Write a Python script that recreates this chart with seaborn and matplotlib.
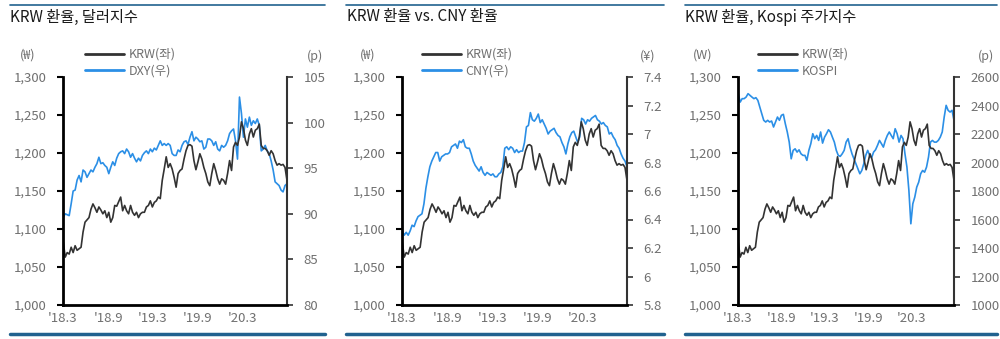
import numpy as np
import pandas as pd
import matplotlib
matplotlib.use("Agg")
import matplotlib.pyplot as plt
import matplotlib.dates as mdates
from matplotlib.lines import Line2D
from matplotlib.ticker import FuncFormatter, FixedLocator
import seaborn as sns

sns.set_theme(style="white")
plt.rcParams["font.family"] = ["Noto Sans CJK KR", "DejaVu Sans"]

# ---- data (weekly, 2018.3 ~ 2020.8) ----
krw = [1083, 1063, 1069, 1067, 1076, 1069, 1078, 1072, 1074, 1076, 1096,
       1109, 1112, 1115, 1126, 1133, 1128, 1122, 1129, 1125, 1120, 1124, 1115,
       1122, 1109, 1115, 1131, 1130, 1136, 1142, 1124, 1131, 1124, 1120,
       1131, 1122, 1118, 1122, 1115, 1120, 1122, 1122, 1129, 1131,
       1137, 1129, 1135, 1137, 1142, 1140, 1164, 1179, 1195, 1181,
       1186, 1179, 1168, 1155, 1173, 1177, 1179, 1192, 1203, 1210,
       1211, 1209, 1190, 1178, 1188, 1199, 1192, 1181, 1173, 1162,
       1157, 1173, 1186, 1177, 1166, 1159, 1166, 1164, 1159, 1173,
       1190, 1177, 1208, 1214, 1210, 1221, 1241, 1232, 1217, 1210,
       1225, 1232, 1221, 1230, 1232, 1238, 1210, 1206, 1206, 1203,
       1197, 1203, 1199, 1190, 1184, 1186, 1184, 1185, 1181, 1164]

dxy = [89.6, 90.0, 89.9, 89.8, 91.1, 92.5, 92.6, 93.7, 94.2, 93.5, 94.8, 94.6,
       94.0, 94.4, 94.8, 94.6, 95.1, 95.5, 96.2, 95.5, 95.6, 95.3, 95.1, 94.4,
       95.1, 95.7, 95.3, 96.1, 96.6, 96.8, 96.9, 96.6, 97.1, 96.8, 96.2, 96.6,
       96.1, 95.7, 96.1, 95.8, 96.4, 96.7, 96.9, 96.6, 97.1, 96.8, 97.2, 97.0,
       97.5, 98.0, 97.5, 97.7, 97.5, 97.7, 97.5, 96.6, 96.4, 96.4, 97.0, 96.8,
       97.5, 97.9, 98.0, 97.6, 98.4, 99.0, 98.0, 98.4, 98.2, 97.9, 98.0, 97.1,
       97.3, 98.2, 98.2, 98.0, 97.5, 97.9, 97.1, 96.9, 97.5, 97.3, 97.5, 98.0,
       98.8, 99.1, 99.3, 98.0, 96.0, 102.8, 101.0, 98.4, 100.4, 99.5, 100.6,
       99.7, 100.2, 99.9, 100.4, 99.7, 96.9, 97.1, 97.5, 96.9, 96.6, 95.8,
       94.8, 93.5, 93.3, 93.1, 92.6, 92.4, 93.1, 93.3]

cny = [6.32, 6.29, 6.31, 6.29, 6.32, 6.36, 6.35, 6.39, 6.42, 6.43, 6.44, 6.51,
       6.62, 6.70, 6.77, 6.81, 6.84, 6.87, 6.87, 6.81, 6.84, 6.85, 6.86, 6.86,
       6.87, 6.91, 6.92, 6.93, 6.90, 6.95, 6.94, 6.96, 6.91, 6.90, 6.90, 6.86,
       6.81, 6.78, 6.76, 6.74, 6.77, 6.73, 6.71, 6.73, 6.72, 6.71, 6.72, 6.70,
       6.70, 6.72, 6.73, 6.77, 6.90, 6.91, 6.89, 6.91, 6.90, 6.87, 6.89, 6.87,
       6.88, 6.88, 6.94, 7.05, 7.06, 7.15, 7.10, 7.09, 7.11, 7.14, 7.08, 7.10,
       7.07, 7.04, 7.00, 7.02, 7.03, 7.04, 7.01, 6.99, 6.98, 6.94, 6.91, 6.86,
       6.93, 6.98, 7.01, 7.02, 6.98, 6.94, 6.98, 7.11, 7.10, 7.07, 7.10, 7.09,
       7.11, 7.12, 7.13, 7.10, 7.09, 7.07, 7.08, 7.06, 7.05, 7.00, 7.01, 6.98,
       6.96, 6.92, 6.90, 6.86, 6.83, 6.81, 6.77]

kospi = [2483, 2424, 2448, 2448, 2459, 2483, 2471, 2459, 2448, 2455, 2436, 2389,
         2342, 2296, 2284, 2296, 2284, 2291, 2249, 2284, 2319, 2296, 2331, 2338,
         2272, 2214, 2143, 2026, 2085, 2096, 2073, 2089, 2061, 2050, 2050, 2015,
         2085, 2132, 2202, 2167, 2190, 2155, 2214, 2136, 2178, 2202, 2230, 2214,
         2178, 2143, 2085, 2050, 2043, 2061, 2085, 2143, 2167, 2108, 2061, 2026,
         1991, 1956, 1921, 1944, 1991, 2050, 2085, 2050, 2033, 2073, 2089, 2120,
         2155, 2132, 2108, 2155, 2190, 2214, 2190, 2167, 2237, 2202, 2143, 2190,
         2167, 2061, 1968, 1804, 1570, 1710, 1757, 1827, 1862, 1921, 1944, 1932,
         1968, 2038, 2143, 2155, 2143, 2143, 2155, 2178, 2214, 2319, 2401, 2366,
         2354, 2366, 2296]

x_tick_dates = ["2018-03-01", "2018-09-01", "2019-03-01", "2019-09-01", "2020-03-01"]
x_tick_labels = ["'18.3", "'18.9", "'19.3", "'19.9", "'20.3"]

krw_ticks = [1000, 1050, 1100, 1150, 1200, 1250, 1300]
dxy_ticks = [80, 85, 90, 95, 100, 105]
cny_ticks = [5.8, 6.0, 6.2, 6.4, 6.6, 6.8, 7.0, 7.2, 7.4]
kospi_ticks = [1000, 1200, 1400, 1600, 1800, 2000, 2200, 2400, 2600]

titles = ["KRW 환율, 달러지수", "KRW 환율 vs. CNY 환율", "KRW 환율, Kospi 주가지수"]
left_units = ["(₩)", "(₩)", "(W)"]
right_units = ["(p)", "(¥)", "(p)"]
krw_label = "KRW(좌)"
right_labels = ["DXY(우)", "CNY(우)", "KOSPI"]

START, END = "2018-03-02", "2020-08-28"
XMIN, XMAX = pd.Timestamp("2018-03-01"), pd.Timestamp("2020-08-28")

BLACK = "#333333"
BLUE = "#2b8fe6"
FRAME = "#21628f"
GREY = "#707070"

W, H = 1000, 339
fig = plt.figure(figsize=(W / 100, H / 100), dpi=100)


def fx(px):
    return px / W


def fy(py):
    return 1 - py / H


def dates_for(values):
    return pd.date_range(START, END, periods=len(values))


def fmt_general(v, _):
    return f"{round(v, 1):g}"


panels = [
    dict(ax_l=63, ax_r=287, rule=(10, 325), title_x=10, lu_x=28, ru_x=315, leg_x=85,
         series=dxy, ticks=dxy_ticks, fmt=lambda v, _: f"{v:.0f}"),
    dict(ax_l=402, ax_r=627, rule=(346, 664), title_x=347, lu_x=368, ru_x=648, leg_x=422,
         series=cny, ticks=cny_ticks, fmt=fmt_general),
    dict(ax_l=738, ax_r=954, rule=(685, 997), title_x=685, lu_x=703, ru_x=986, leg_x=758,
         series=kospi, ticks=kospi_ticks, fmt=lambda v, _: f"{v:.0f}"),
]

AX_TOP, AX_BOT = 77, 305

for i, p in enumerate(panels):
    ax = fig.add_axes([fx(p["ax_l"]), fy(AX_BOT), fx(p["ax_r"] - p["ax_l"]),
                       (AX_BOT - AX_TOP) / H])
    ax2 = ax.twinx()

    sns.lineplot(x=dates_for(krw), y=krw, ax=ax, color=BLACK, linewidth=1.2)
    sns.lineplot(x=dates_for(p["series"]), y=p["series"], ax=ax2, color=BLUE,
                 linewidth=1.2)
    ax2.set_zorder(ax.get_zorder() - 1)
    ax.patch.set_visible(False)

    ax.set_xlim(XMIN, XMAX)
    ax.set_ylim(krw_ticks[0], krw_ticks[-1])
    ax2.set_ylim(p["ticks"][0], p["ticks"][-1])
    ax.set_xlabel("")
    ax.set_ylabel("")
    ax2.set_ylabel("")

    ax.xaxis.set_major_locator(FixedLocator(mdates.date2num(pd.to_datetime(x_tick_dates))))
    ax.set_xticklabels(x_tick_labels)
    ax.yaxis.set_major_locator(FixedLocator(krw_ticks))
    ax.yaxis.set_major_formatter(FuncFormatter(lambda v, _: f"{v:,.0f}"))
    ax2.yaxis.set_major_locator(FixedLocator(p["ticks"]))
    ax2.yaxis.set_major_formatter(FuncFormatter(p["fmt"]))

    ax.tick_params(axis="x", direction="in", length=4, width=1.5, color="black",
                   labelcolor=GREY, labelsize=9.5, pad=5)
    ax.tick_params(axis="y", direction="out", length=4, width=1.5, color="black",
                   labelcolor=GREY, labelsize=9.5, pad=8)
    ax2.tick_params(axis="y", direction="out", length=4, width=1.2, color="#333333",
                    labelcolor=GREY, labelsize=9.5, pad=8)

    for a in (ax, ax2):
        a.grid(False)
        a.spines["top"].set_visible(False)
    ax.spines["right"].set_visible(False)
    ax2.spines["left"].set_visible(False)
    ax2.spines["bottom"].set_visible(False)
    ax.spines["left"].set_color("black")
    ax.spines["left"].set_linewidth(2)
    ax.spines["bottom"].set_color("black")
    ax.spines["bottom"].set_linewidth(2)
    ax2.spines["right"].set_color("#333333")
    ax2.spines["right"].set_linewidth(1.5)

    # panel title and frame rules
    fig.text(fx(p["title_x"]), fy(17), titles[i], fontsize=11, color="#1a1a1a",
             ha="left", va="center")
    fig.add_artist(Line2D([fx(p["rule"][0]), fx(p["rule"][1])], [fy(4.5)] * 2,
                          color=FRAME, linewidth=1.2))
    fig.add_artist(Line2D([fx(p["rule"][0]), fx(p["rule"][1])], [fy(334)] * 2,
                          color=FRAME, linewidth=2.5))

    # unit labels
    fig.text(fx(p["lu_x"]), fy(55), left_units[i], fontsize=9, color=GREY,
             ha="center", va="center")
    fig.text(fx(p["ru_x"]), fy(56), right_units[i], fontsize=9, color=GREY,
             ha="center", va="center")

    handles = [Line2D([], [], color=BLACK, linewidth=2),
               Line2D([], [], color=BLUE, linewidth=2)]
    fig.legend(handles, [krw_label, right_labels[i]], loc="upper left",
               bbox_to_anchor=(fx(p["leg_x"]), fy(48)), frameon=False, fontsize=9,
               handlelength=3.1, handletextpad=0.4, labelspacing=0.3,
               borderpad=0, borderaxespad=0, labelcolor=GREY)

fig.savefig("out.png", dpi=100)
